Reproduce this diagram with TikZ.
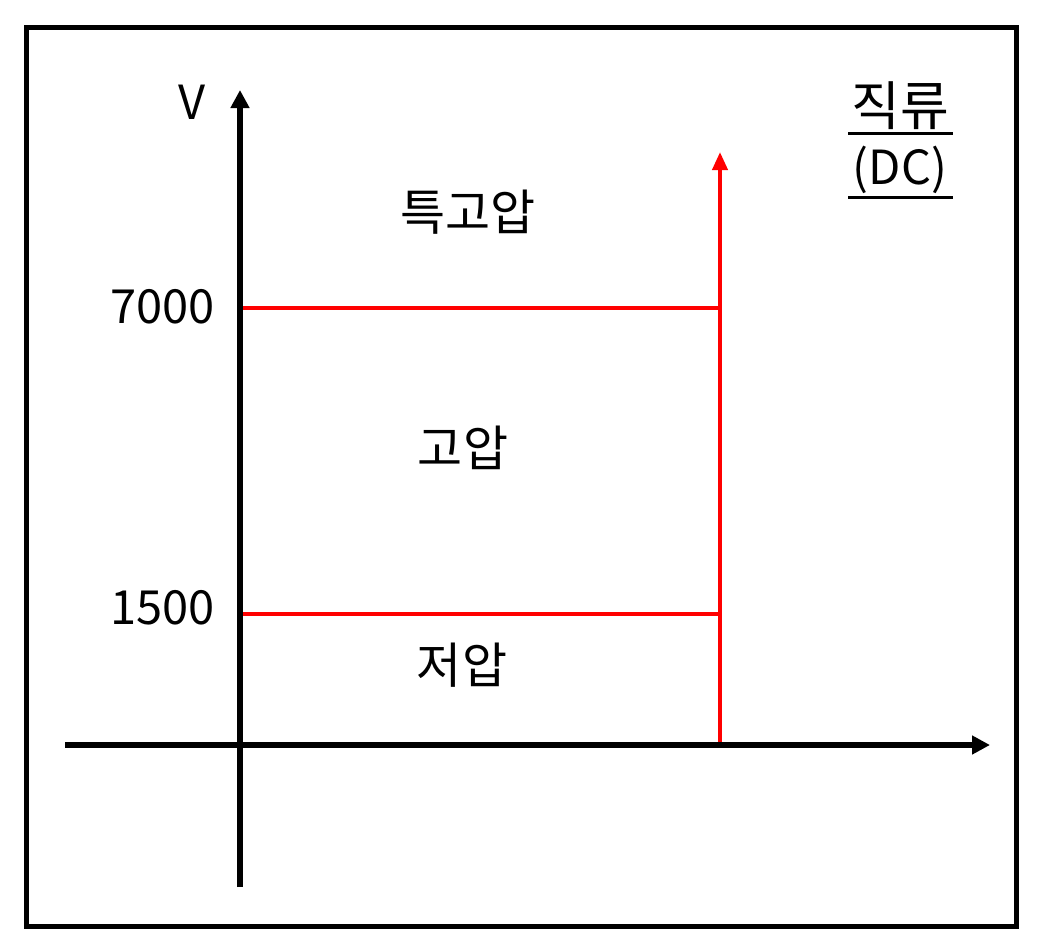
\documentclass[tikz,border=0pt]{standalone}
\usepackage{fontspec}
\setmainfont{Noto Sans CJK KR}
\usetikzlibrary{arrows.meta}
\begin{document}
\begin{tikzpicture}[x=1pt,y=-1pt,
	axis/.style={line width=5.5pt,-{Triangle[length=18pt,width=18pt]}},
	redaxis/.style={red,line width=4pt,-{Triangle[length=18pt,width=15pt]}},
	level/.style={red,line width=4pt},
	uline/.style={line width=3pt},
	txt/.style={inner sep=0pt,font=\fontsize{47}{56}\selectfont},
	ktxt/.style={inner sep=0pt,font=\fontsize{49}{58}\selectfont}]
	\useasboundingbox (0,0) rectangle (1043,951);
	\draw[line width=5pt] (26,27) rectangle (1016,926);
	\coordinate (xs) at (65,745);
	\coordinate (xe) at (990,745);
	\coordinate (ys) at (240,887);
	\coordinate (ye) at (240,90);
	\coordinate (rs) at (720,745);
	\coordinate (re) at (720,152);
	\coordinate (h1) at (240,308);
	\coordinate (h1e) at (720,308);
	\coordinate (h2) at (240,614);
	\coordinate (h2e) at (720,614);
	\node[txt] at (192,102) (v) {V};
	\node[txt,anchor=east] at (215,307) (n7000) {7000};
	\node[txt,anchor=east] at (215,608) (n1500) {1500};
	\node[ktxt] at (468,212) (tg) {특고압};
	\node[ktxt] at (463,448) (go) {고압};
	\node[ktxt] at (462,665) (jeo) {저압};
	\node[ktxt,font=\fontsize{53}{60}\selectfont] at (900,106) (jik) {직류};
	\node[txt] at (900,170) (dc) {(DC)};
	% underlines
	\draw[uline] (848,133) -- (953,133);
	\draw[uline] (848,197) -- (953,197);
	\path (h1) edge[level] (h1e)
	(h2) edge[level] (h2e);
	\draw[redaxis] (rs) -- (re);
	\draw[axis] (xs) -- (xe);
	\draw[axis] (ys) -- (ye);
\end{tikzpicture}
\end{document}
